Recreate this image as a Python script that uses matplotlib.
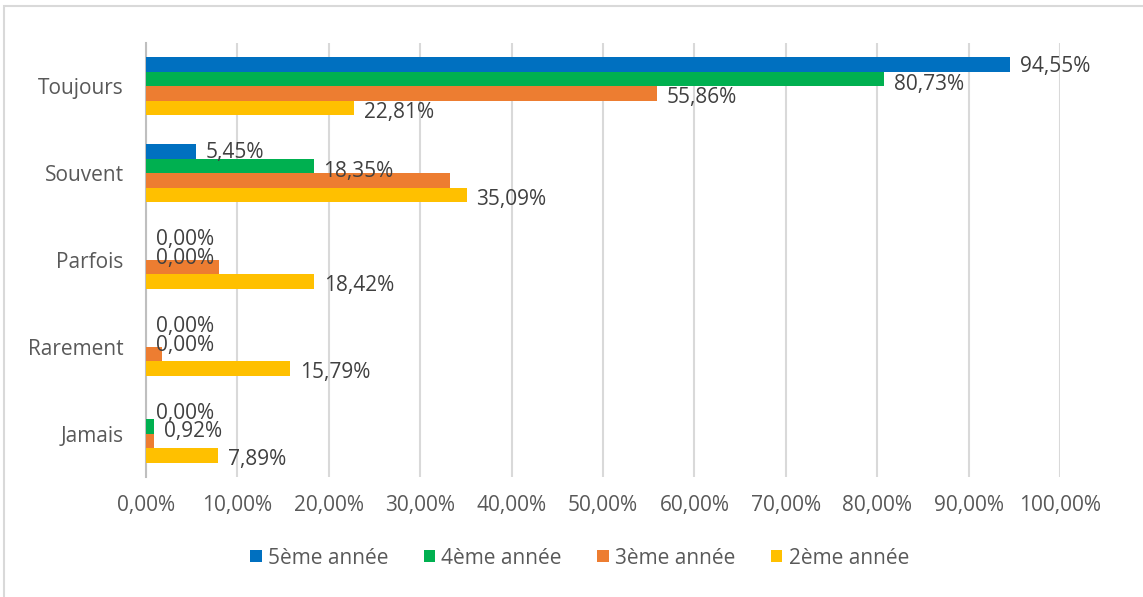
import matplotlib
matplotlib.use('Agg')
import matplotlib.pyplot as plt
import numpy as np

# Données du graphique
categories = ['Toujours', 'Souvent', 'Parfois', 'Rarement', 'Jamais']
series = ['5ème année', '4ème année', '3ème année', '2ème année']
v5 = [94.55, 5.45, 0.00, 0.00, 0.00]
v4 = [80.73, 18.35, 0.00, 0.00, 0.92]
v3 = [55.86, 33.30, 8.00, 1.70, 0.85]
v2 = [22.81, 35.09, 18.42, 15.79, 7.89]
# étiquettes affichées (la série 3ème année n'en a qu'une)
lab5 = ['94,55%', '5,45%', '0,00%', '0,00%', '0,00%']
lab4 = ['80,73%', '18,35%', '0,00%', '0,00%', '0,92%']
lab3 = ['55,86%', '', '', '', '']
lab2 = ['22,81%', '35,09%', '18,42%', '15,79%', '7,89%']
xticks = [0, 10, 20, 30, 40, 50, 60, 70, 80, 90, 100]

couleurs = ['#0070c0', '#00b050', '#ed7d31', '#ffc000']

plt.rcParams['font.family'] = ['Open Sans', 'DejaVu Sans']

fig = plt.figure(figsize=(11.43, 5.97), dpi=100)
ax = fig.add_axes([146 / 1143, 1 - 477 / 597, 914 / 1143, 434 / 597])

# cadre gris autour du graphique
fig.patches.append(plt.Rectangle((4 / 1143, -0.1), 1.2, 1 - 6 / 597 + 0.1,
                                 transform=fig.transFigure, fill=False,
                                 edgecolor='#d9d9d9', linewidth=1.5))

y = np.arange(len(categories))
h = 1 / 6
valeurs = [v5, v4, v3, v2]
etiquettes = [lab5, lab4, lab3, lab2]
decal = [(7, -1), (7, -4), (7, -3), (7, -3)]
for k in range(4):
    pos = y + (k - 1.5) * h
    ax.barh(pos, valeurs[k], height=h, color=couleurs[k], label=series[k], zorder=3)
    for p, val, txt in zip(pos, valeurs[k], etiquettes[k]):
        if txt:
            ax.annotate(txt, (val, p), xytext=decal[k], textcoords='offset points',
                        ha='left', va='center', fontsize=15, color='#404040', zorder=4)

ax.set_xlim(0, 100)
ax.set_ylim(4.5, -0.5)
ax.set_xticks(xticks)
ax.set_xticklabels([f'{t},00%' for t in xticks])
ax.set_yticks(y)
ax.set_yticklabels(categories)
ax.tick_params(axis='both', length=0, labelsize=15, labelcolor='#595959')
ax.tick_params(axis='y', pad=16)
ax.tick_params(axis='x', pad=13)
ax.grid(axis='x', color='#d9d9d9', linewidth=1.5, zorder=0)
for s in ['top', 'right', 'bottom']:
    ax.spines[s].set_visible(False)
ax.spines['left'].set_color('#bfbfbf')
ax.spines['left'].set_linewidth(1.5)

fig.legend(loc='center', bbox_to_anchor=(0.507, 1 - 558 / 597), ncol=4, frameon=False,
           fontsize=15, labelcolor='#595959', handlelength=0.55, handleheight=0.55,
           handletextpad=0.3, columnspacing=1.7)

fig.savefig('out.png', dpi=100)
